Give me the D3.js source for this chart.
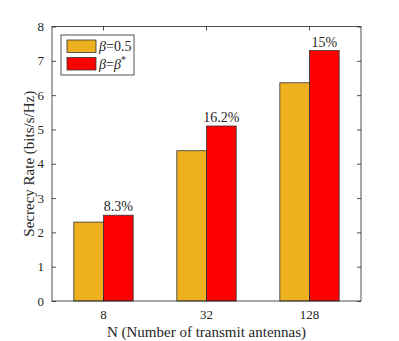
<!DOCTYPE html>
<html><head><meta charset="utf-8">
<script src="https://cdn.jsdelivr.net/npm/d3@7"></script>
<style>body{margin:0;background:#fff}svg{display:block}text{font-family:"Liberation Serif","Times New Roman",serif;fill:#262626}</style>
</head><body>
<script>
const categories = ["8", "32", "128"];
const seriesNames = ["0.5", "*"];
const beta05 = [2.3, 4.38, 6.36];
const betaStar = [2.5, 5.1, 7.3];
const gainLabels = ["8.3%", "16.2%", "15%"];
const yTicks = [0, 1, 2, 3, 4, 5, 6, 7, 8];
const colors = ["#EDB120", "#FF0000"];

const W = 399, H = 341;
const m = {l: 52, r: 38, t: 26.5, b: 40};
const svg = d3.select("body").append("svg").attr("width", W).attr("height", H);
const iw = W - m.l - m.r, ih = H - m.t - m.b;
const g = svg.append("g").attr("transform", `translate(${m.l},${m.t})`);

const x = d3.scaleBand().domain(categories).range([0, iw]).padding(0);
const y = d3.scaleLinear().domain([0, 8]).range([ih, 0]);
const barW = x.bandwidth() * 0.288;

const series = [beta05, betaStar];
series.forEach((vals, si) => {
  g.selectAll(".b" + si).data(categories).enter().append("rect")
    .attr("x", d => x(d) + x.bandwidth() / 2 + (si - 1) * barW)
    .attr("y", (d, i) => y(vals[i]))
    .attr("width", barW)
    .attr("height", (d, i) => ih - y(vals[i]))
    .attr("fill", colors[si])
    .attr("stroke", "#333").attr("stroke-width", 0.8);
});

g.selectAll(".gl").data(categories).enter().append("text")
  .attr("x", d => x(d) + x.bandwidth() / 2 + barW / 2)
  .attr("y", (d, i) => y(betaStar[i]) - 4)
  .attr("text-anchor", "middle").attr("font-size", 14)
  .text((d, i) => gainLabels[i]);

// axes
const yAxisL = d3.axisLeft(y).tickValues(yTicks).tickSize(-4).tickPadding(8);
const yAxisR = d3.axisRight(y).tickValues(yTicks).tickSize(-4).tickFormat("");
const xAxisB = d3.axisBottom(x).tickSize(-4).tickPadding(9);
const xAxisT = d3.axisTop(x).tickSize(-4).tickFormat("");
function style(sel) {
  sel.select(".domain").attr("stroke", "#262626").attr("stroke-width", 0.8);
  sel.selectAll(".tick line").attr("stroke", "#262626").attr("stroke-width", 0.8);
  sel.selectAll(".tick text").attr("font-size", 13).attr("fill", "#262626")
    .attr("font-family", "Liberation Serif, serif");
}
g.append("g").call(yAxisL).call(style).select(".domain").remove();
g.append("g").attr("transform", `translate(${iw},0)`).call(yAxisR).call(style).select(".domain").remove();
g.append("g").attr("transform", `translate(0,${ih})`).call(xAxisB).call(style).select(".domain").remove();
g.append("g").call(xAxisT).call(style).select(".domain").remove();
g.append("rect").attr("width", iw).attr("height", ih).attr("fill", "none")
  .attr("stroke", "#262626").attr("stroke-width", 0.8);

// axis labels
svg.append("text").attr("x", m.l + iw / 2).attr("y", 337).attr("text-anchor", "middle")
  .attr("font-size", 15).text("N (Number of transmit antennas)");
svg.append("text").attr("transform", `translate(34,${m.t + ih / 2}) rotate(-90)`)
  .attr("text-anchor", "middle").attr("font-size", 15).text("Secrecy Rate (bits/s/Hz)");

// legend
const lg = svg.append("g").attr("transform", "translate(61,35)");
lg.append("rect").attr("width", 73).attr("height", 40).attr("fill", "#fff")
  .attr("stroke", "#262626").attr("stroke-width", 0.8);
seriesNames.forEach((nm, i) => {
  lg.append("rect").attr("x", 6).attr("y", 5 + i * 17.5).attr("width", 29).attr("height", 12.5)
    .attr("fill", colors[i]).attr("stroke", "#333").attr("stroke-width", 0.8);
  const t = lg.append("text").attr("x", 38).attr("y", 16 + i * 17.5).attr("font-size", 14);
  t.append("tspan").attr("font-style", "italic").text("β");
  t.append("tspan").text("=");
  if (nm === "*") {
    t.append("tspan").attr("font-style", "italic").text("β");
    t.append("tspan").attr("font-size", 10).attr("dy", -6).text("*");
  } else {
    t.append("tspan").text(nm);
  }
});
</script>
</body></html>
